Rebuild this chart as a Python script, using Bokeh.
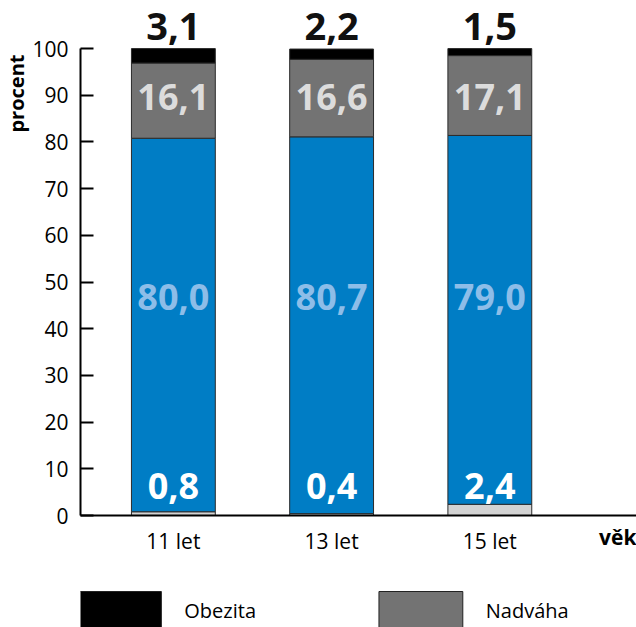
from bokeh.plotting import figure
from bokeh.models import Range1d, FixedTicker, Label, ColumnDataSource, Title
from bokeh.layouts import column
from bokeh.core.properties import value
from bokeh.embed import file_html
from bokeh.resources import INLINE

# Body-weight categories by age group (percent)
ages = ["11 let", "13 let", "15 let"]
podvaha = [0.8, 0.4, 2.4]
normalni = [80.0, 80.7, 79.0]
nadvaha = [16.1, 16.6, 17.1]
obezita = [3.1, 2.2, 1.5]
y_ticks = [0, 10, 20, 30, 40, 50, 60, 70, 80, 90, 100]

FONT = "Open Sans"
BLUE = "#007DC5"
GREY = "#737373"
LIGHT = "#D3D3D3"
BLACK = "#000000"


def fmt(v):
    return f"{v:.1f}".replace(".", ",")


xs = [i + 1 for i in range(len(ages))]
src = ColumnDataSource(dict(x=xs, podvaha=podvaha, normalni=normalni,
                            nadvaha=nadvaha, obezita=obezita))

p = figure(width=636, height=585, output_backend="svg", toolbar_location=None,
           x_range=Range1d(0.413, 3.927), y_range=Range1d(0, 110.3),
           min_border_left=79, min_border_right=0, min_border_top=0,
           min_border_bottom=64)
p.outline_line_color = None
p.grid.visible = False
p.background_fill_color = "white"
p.border_fill_color = "white"

p.vbar_stack(["podvaha", "normalni", "nadvaha", "obezita"], x="x", width=0.53,
             color=[LIGHT, BLUE, GREY, BLACK], line_color="#2b2b2b",
             line_width=1, source=src)

# value labels
def add_labels(vals, y, color, size):
    p.text(x=xs, y=[y] * len(xs), text=[fmt(v) for v in vals],
           text_font=value(FONT), text_font_style="bold",
           text_font_size=size, text_color=color,
           text_align="center", text_baseline="middle")

add_labels(obezita, 104.8, "#111111", "38px")
add_labels(nadvaha, 89.6, "#DCDCDC", "36px")
add_labels(normalni, 46.8, "#8DBDE8", "36px")
add_labels(podvaha, 6.3, "#FFFFFF", "36px")

# y axis
ya = p.yaxis[0]
ya.ticker = FixedTicker(ticks=y_ticks)
ya.bounds = (0, 100)
ya.major_tick_in = 13
ya.major_tick_out = 0
ya.minor_tick_line_color = None
ya.axis_line_width = 2
ya.major_tick_line_width = 2
ya.axis_line_color = "black"
ya.major_tick_line_color = "black"
ya.major_label_text_font = FONT
ya.major_label_text_font_size = "21px"
ya.major_label_text_color = "black"
ya.major_label_standoff = 12

# x axis
xa = p.xaxis[0]
xa.ticker = FixedTicker(ticks=xs)
xa.major_label_overrides = {x: a for x, a in zip(xs, ages)}
xa.major_tick_in = 0
xa.major_tick_out = 0
xa.minor_tick_line_color = None
xa.axis_line_width = 2
xa.axis_line_color = "black"
xa.major_label_text_font = FONT
xa.major_label_text_font_size = "21px"
xa.major_label_text_color = "black"
xa.major_label_standoff = 11

# axis captions live in the side panels so they are not clipped by the frame
p.add_layout(Label(x=3.927, y=-4.7, text="věk", text_font=FONT,
                   text_font_style="bold", text_font_size="21px",
                   text_align="right", text_baseline="middle",
                   text_color="black"), "below")
p.add_layout(Title(text="procent", align="right", offset=54, standoff=0,
                   text_font=FONT, text_font_style="bold",
                   text_font_size="20px", text_color="black"), "left")

# legend strip
lg = figure(width=636, height=42, output_backend="svg", toolbar_location=None,
            x_range=Range1d(79, 636), y_range=Range1d(0, 42),
            min_border=0, min_border_left=79)
lg.axis.visible = False
lg.grid.visible = False
lg.outline_line_color = None
lg.quad(left=[77, 378], right=[160, 462], bottom=[-20, -20], top=[36, 36],
        fill_color=[BLACK, GREY], line_color="#222222", line_width=1)
lg.text(x=[183, 485], y=[17, 17], text=["Obezita", "Nadváha"],
        text_font=value(FONT), text_font_size="20px", text_color="black",
        text_align="left", text_baseline="middle")

layout = column(p, lg, spacing=0)
open("out.html", "w").write(file_html(layout, INLINE))
